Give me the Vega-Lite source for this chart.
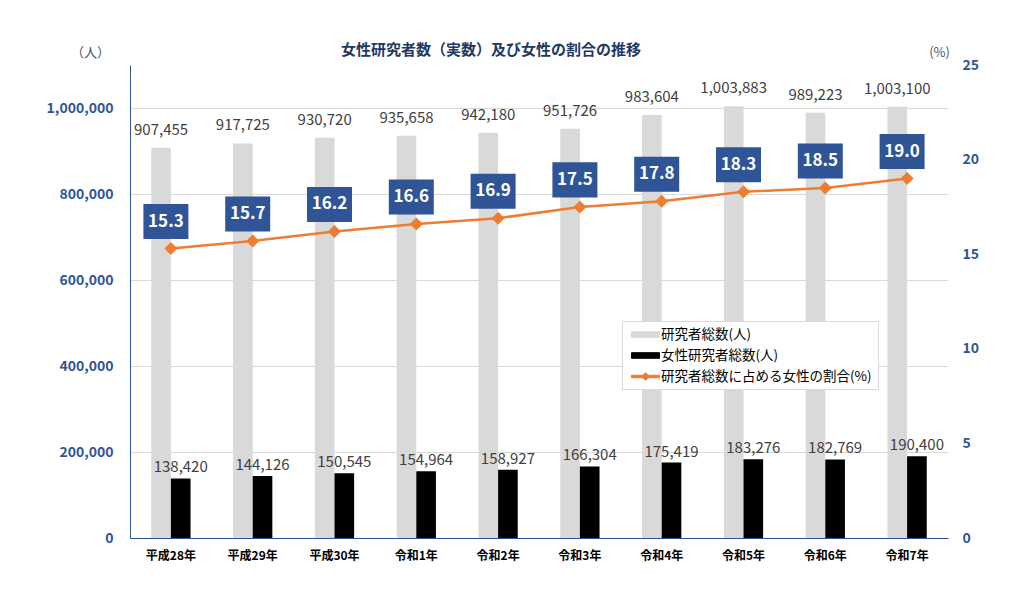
{
  "$schema": "https://vega.github.io/schema/vega-lite/v6.json",
  "width": 818,
  "height": 473,
  "autosize": "none",
  "padding": {"left": 130, "top": 65, "right": 76, "bottom": 78},
  "background": "white",
  "config": {
    "font": "Noto Sans CJK JP",
    "view": {"stroke": null}
  },
  "title": {
    "text": "女性研究者数（実数）及び女性の割合の推移",
    "fontSize": 15,
    "fontWeight": "bold",
    "color": "#1F3864",
    "dx": -48,
    "offset": -12
  },
  "data": {
    "values": [
      {"year": "平成28年", "total": 907455, "female": 138420, "ratio": 15.3},
      {"year": "平成29年", "total": 917725, "female": 144126, "ratio": 15.7},
      {"year": "平成30年", "total": 930720, "female": 150545, "ratio": 16.2},
      {"year": "令和1年", "total": 935658, "female": 154964, "ratio": 16.6},
      {"year": "令和2年", "total": 942180, "female": 158927, "ratio": 16.9},
      {"year": "令和3年", "total": 951726, "female": 166304, "ratio": 17.5},
      {"year": "令和4年", "total": 983604, "female": 175419, "ratio": 17.8},
      {"year": "令和5年", "total": 1003883, "female": 183276, "ratio": 18.3},
      {"year": "令和6年", "total": 989223, "female": 182769, "ratio": 18.5},
      {"year": "令和7年", "total": 1003100, "female": 190400, "ratio": 19.0}
    ]
  },
  "encoding": {
    "x": {
      "field": "year",
      "type": "nominal",
      "sort": null,
      "scale": {"paddingInner": 0.52, "paddingOuter": 0.26},
      "axis": {
        "title": null,
        "labelAngle": 0,
        "labelFontSize": 12,
        "labelFontWeight": "bold",
        "labelColor": "#000000",
        "labelPadding": 12,
        "ticks": false,
        "domainColor": "#2F5597",
        "domainWidth": 1
      }
    }
  },
  "layer": [
    {
      "transform": [{"fold": ["total", "female"], "as": ["key", "value"]}],
      "encoding": {
        "y": {
          "field": "value",
          "type": "quantitative",
          "scale": {"domain": [0, 1100000], "nice": false},
          "axis": {
            "values": [0, 200000, 400000, 600000, 800000, 1000000],
            "labelExpr": "format(datum.value, ',')",
            "ticks": false,
            "domain": true,
            "domainColor": "#2F5597",
            "grid": true,
            "gridColor": "#D9D9D9",
            "labelColor": "#2F5597",
            "labelFontSize": 14,
            "labelFontWeight": "bold",
            "labelPadding": 17,
            "title": "（人）",
            "titleAngle": 0,
            "titleX": -40,
            "titleY": -13,
            "titleAlign": "center",
            "titleBaseline": "middle",
            "titleColor": "#44546A",
            "titleFontSize": 13,
            "titleFontWeight": "normal"
          }
        },
        "xOffset": {
          "field": "key",
          "type": "nominal",
          "scale": {"domain": ["total", "female"], "paddingInner": 0, "paddingOuter": 0}
        }
      },
      "layer": [
        {
          "mark": {"type": "bar"},
          "encoding": {
            "color": {
              "field": "key",
              "type": "nominal",
              "scale": {
                "domain": ["total", "female", "ratio"],
                "range": ["#D9D9D9", "#000000", "#ED7D31"]
              },
              "legend": {
                "title": null,
                "orient": "none",
                "legendX": 492,
                "legendY": 256,
                "fillColor": "white",
                "strokeColor": "#D9D9D9",
                "padding": 6,
                "labelFontSize": 13.5,
                "labelColor": "#000000",
                "labelOffset": 8,
                "labelLimit": 400,
                "rowPadding": 7,
                "symbolSize": 196,
                "symbolOffset": 10,
                "labelExpr": "datum.value === 'total' ? '研究者総数(人)' : datum.value === 'female' ? '女性研究者総数(人)' : '研究者総数に占める女性の割合(%)'",
                "encode": {
                  "symbols": {
                    "update": {
                      "shape": {"signal": "datum.value === 'ratio' ? 'M-2,-0.18L2,-0.18L2,0.18L-2,0.18Z M0,-0.55L0.55,0L0,0.55L-0.55,0Z' : 'M-2,-0.4L2,-0.4L2,0.4L-2,0.4Z'"},
                      "fill": {"signal": "datum.value === 'total' ? '#FFFFFF' : datum.value === 'female' ? '#000000' : '#ED7D31'"},
                      "stroke": {"signal": "datum.value === 'ratio' ? '#ED7D31' : '#000000'"},
                      "strokeWidth": {"value": 1},
                      "opacity": {"value": 1},
                      "fillOpacity": {"value": 1}
                    }
                  }
                }
              }
            }
          }
        },
        {
          "transform": [{"filter": "datum.key === 'total'"}],
          "mark": {"type": "text", "baseline": "bottom", "dy": -10, "fontSize": 15, "color": "#404040"},
          "encoding": {
            "text": {"field": "value", "type": "quantitative", "format": ","}
          }
        },
        {
          "transform": [{"filter": "datum.key === 'female'"}],
          "mark": {"type": "text", "baseline": "bottom", "dy": -3, "fontSize": 15, "color": "#404040"},
          "encoding": {
            "text": {"field": "value", "type": "quantitative", "format": ","}
          }
        }
      ]
    },
    {
      "encoding": {
        "y": {
          "field": "ratio",
          "type": "quantitative",
          "scale": {"domain": [0, 25], "nice": false},
          "axis": {
            "orient": "right",
            "values": [0, 5, 10, 15, 20, 25],
            "ticks": false,
            "domain": false,
            "grid": false,
            "labelColor": "#2F5597",
            "labelFontSize": 14,
            "labelFontWeight": "bold",
            "labelPadding": 14,
            "title": "(%)",
            "titleAngle": 0,
            "titleX": -9,
            "titleY": -13,
            "titleAlign": "center",
            "titleBaseline": "middle",
            "titleColor": "#44546A",
            "titleFontSize": 13,
            "titleFontWeight": "normal"
          }
        }
      },
      "layer": [
        {
          "mark": {"type": "line", "strokeWidth": 2.5},
          "encoding": {
            "color": {
              "datum": "ratio",
              "legend": {
                "title": null,
                "orient": "none",
                "legendX": 492,
                "legendY": 256,
                "fillColor": "white",
                "strokeColor": "#D9D9D9",
                "padding": 6,
                "labelFontSize": 13.5,
                "labelColor": "#000000",
                "labelOffset": 8,
                "labelLimit": 400,
                "rowPadding": 7,
                "symbolSize": 196,
                "symbolOffset": 10,
                "labelExpr": "datum.value === 'total' ? '研究者総数(人)' : datum.value === 'female' ? '女性研究者総数(人)' : '研究者総数に占める女性の割合(%)'",
                "encode": {
                  "symbols": {
                    "update": {
                      "shape": {"signal": "datum.value === 'ratio' ? 'M-2,-0.18L2,-0.18L2,0.18L-2,0.18Z M0,-0.55L0.55,0L0,0.55L-0.55,0Z' : 'M-2,-0.4L2,-0.4L2,0.4L-2,0.4Z'"},
                      "fill": {"signal": "datum.value === 'total' ? '#FFFFFF' : datum.value === 'female' ? '#000000' : '#ED7D31'"},
                      "stroke": {"signal": "datum.value === 'ratio' ? '#ED7D31' : '#000000'"},
                      "strokeWidth": {"value": 1},
                      "opacity": {"value": 1},
                      "fillOpacity": {"value": 1}
                    }
                  }
                }
              }
            }
          }
        },
        {
          "mark": {"type": "point", "shape": "diamond", "filled": true, "size": 170, "color": "#ED7D31", "opacity": 1}
        },
        {
          "mark": {"type": "point", "shape": "M-1,-0.78L1,-0.78L1,0.78L-1,0.78Z", "filled": true, "size": 2025, "color": "#2F5597", "opacity": 1, "yOffset": -27, "xOffset": -5}
        },
        {
          "mark": {"type": "text", "fontSize": 17, "fontWeight": "bold", "color": "#FFFFFF", "baseline": "middle", "yOffset": -27, "xOffset": -5},
          "encoding": {
            "text": {"field": "ratio", "type": "quantitative", "format": ".1f"}
          }
        }
      ]
    }
  ],
  "resolve": {"scale": {"y": "independent"}}
}
